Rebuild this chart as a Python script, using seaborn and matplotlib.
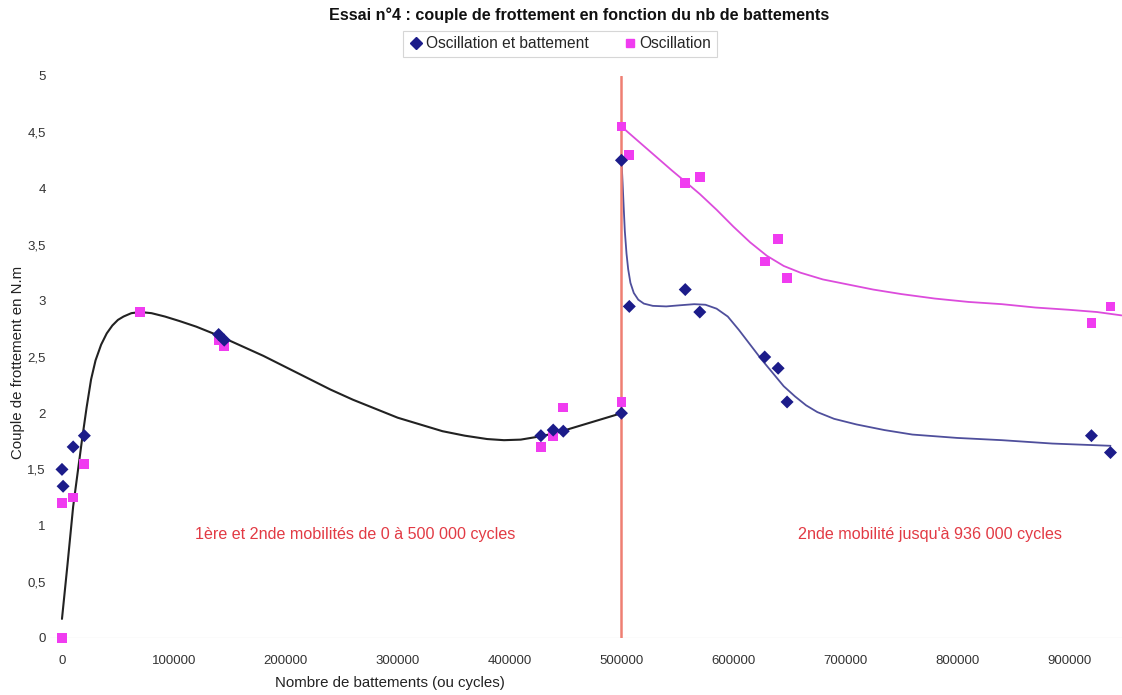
import numpy as np
import pandas as pd
import matplotlib
matplotlib.use("Agg")
import matplotlib.pyplot as plt
from matplotlib.lines import Line2D
from matplotlib.ticker import FuncFormatter
import seaborn as sns

# ---- data ----
ob_x = [0, 1000, 10000, 20000, 140000, 145000, 428000, 439000, 448000, 500000,
        500000, 507000, 557000, 570000, 628000, 640000, 648000, 920000, 937000]
ob_y = [1.5, 1.35, 1.7, 1.8, 2.7, 2.65, 1.8, 1.85, 1.84, 2.0,
        4.25, 2.95, 3.1, 2.9, 2.5, 2.4, 2.1, 1.8, 1.65]

osc_x = [0, 0, 10000, 20000, 70000, 140000, 145000, 428000, 439000, 448000, 500000,
         500000, 507000, 557000, 570000, 628000, 640000, 648000, 920000, 937000]
osc_y = [0.0, 1.2, 1.25, 1.55, 2.9, 2.65, 2.6, 1.7, 1.8, 2.05, 2.1,
         4.55, 4.3, 4.05, 4.1, 3.35, 3.55, 3.2, 2.8, 2.95]

# trend curves
black_x = [0, 5000, 10000, 18000, 22000, 26000, 30000, 35000, 40000, 45000, 50000,
           55000, 62000, 70000, 80000, 92000, 105000, 120000, 140000, 160000, 180000,
           200000, 220000, 240000, 260000, 280000, 300000, 320000, 340000, 360000,
           380000, 395000, 410000, 425000, 440000, 460000, 480000, 500000]
black_y = [0.17, 0.66, 1.17, 1.77, 2.05, 2.30, 2.47, 2.61, 2.71, 2.78, 2.83,
           2.86, 2.89, 2.90, 2.89, 2.86, 2.82, 2.77, 2.69, 2.60, 2.51,
           2.41, 2.31, 2.21, 2.12, 2.04, 1.96, 1.90, 1.84, 1.80,
           1.77, 1.76, 1.765, 1.79, 1.82, 1.88, 1.94, 2.0]

blue_x = [500000, 501000, 502000, 503000, 504500, 506000, 508000, 511000, 515000,
          520000, 528000, 540000, 552000, 565000, 575000, 585000, 595000, 605000,
          615000, 625000, 635000, 645000, 655000, 665000, 675000, 690000, 710000,
          735000, 760000, 800000, 840000, 885000, 937000]
blue_y = [4.25, 4.05, 3.83, 3.62, 3.42, 3.28, 3.16, 3.07, 3.01,
          2.975, 2.955, 2.95, 2.96, 2.97, 2.965, 2.93, 2.86, 2.74,
          2.61, 2.48, 2.36, 2.24, 2.15, 2.07, 2.01, 1.95, 1.90,
          1.85, 1.81, 1.78, 1.76, 1.73, 1.71]

pink_x = [500000, 515000, 530000, 545000, 557000, 570000, 585000, 600000, 615000,
          630000, 645000, 660000, 680000, 700000, 725000, 750000, 780000, 810000,
          840000, 870000, 900000, 925000, 947000]
pink_y = [4.55, 4.42, 4.29, 4.16, 4.06, 3.95, 3.81, 3.66, 3.52,
          3.40, 3.31, 3.25, 3.19, 3.15, 3.10, 3.06, 3.02, 2.99,
          2.97, 2.94, 2.92, 2.90, 2.87]

x_ticks = [0, 100000, 200000, 300000, 400000, 500000, 600000, 700000, 800000, 900000]
y_ticks = [0, 0.5, 1, 1.5, 2, 2.5, 3, 3.5, 4, 4.5, 5]

title = "Essai n°4 : couple de frottement en fonction du nb de battements"
series_names = ["Oscillation et battement", "Oscillation"]
x_label = "Nombre de battements (ou cycles)"
y_label = "Couple de frottement en N.m"
note_left = "1ère et 2nde mobilités de 0 à 500 000 cycles"
note_right = "2nde mobilité jusqu'à 936 000 cycles"
split_x = 500000

# ---- styling ----
sns.set_theme(style="white")
plt.rcParams['font.family'] = ['Liberation Sans', 'DejaVu Sans']

navy = "#1c1c8a"
magenta = "#f03cf0"
red_txt = "#e23a44"

fig = plt.figure(figsize=(11.22, 6.95), dpi=100)
ax = fig.add_axes([50/1122, (695-638)/695, (1122-50)/1122, (638-76)/695])

df_black = pd.DataFrame({"x": black_x, "y": black_y})
df_blue = pd.DataFrame({"x": blue_x, "y": blue_y})
df_pink = pd.DataFrame({"x": pink_x, "y": pink_y})

sns.lineplot(data=df_black, x="x", y="y", sort=False, color="#222222", lw=1.5, ax=ax)
sns.lineplot(data=df_blue, x="x", y="y", sort=False, color="#4f4f9c", lw=1.3, ax=ax)
sns.lineplot(data=df_pink, x="x", y="y", sort=False, color="#dc4cdc", lw=1.3, ax=ax)

ax.axvline(split_x, color="#ef7f72", lw=1.8, zorder=2)
ax.axhline(0, color="#eeeeee", lw=1, zorder=0)

df_ob = pd.DataFrame({"x": ob_x, "y": ob_y})
df_osc = pd.DataFrame({"x": osc_x, "y": osc_y})
sns.scatterplot(data=df_osc, x="x", y="y", marker="s", s=50, color=magenta,
                edgecolor="none", ax=ax, zorder=4, clip_on=False)
sns.scatterplot(data=df_ob, x="x", y="y", marker="D", s=44, color=navy,
                edgecolor="none", ax=ax, zorder=5, clip_on=False)

ax.set_xlim(-10700, 947300)
ax.set_ylim(0, 5)
ax.set_xticks(x_ticks)
ax.set_yticks(y_ticks)
ax.xaxis.set_major_formatter(FuncFormatter(lambda v, p: f"{int(v)}"))
ax.yaxis.set_major_formatter(FuncFormatter(lambda v, p: (f"{v:g}").replace(".", ",")))
ax.tick_params(axis="both", length=0, labelsize=9.5, colors="#333333")
ax.tick_params(axis="x", pad=12)
ax.tick_params(axis="y", pad=3)
for sp in ax.spines.values():
    sp.set_visible(False)

ax.set_xlabel("")
ax.set_ylabel("")
fig.text(390/1122, 1 - 683/695, x_label, ha="center", va="center", fontsize=10.8, color="#222222")
fig.text(18/1122, 1 - 362/695, y_label, ha="center", va="center", rotation=90,
         fontsize=10.8, color="#222222")

ax.text(262000, 0.92, note_left, ha="center", va="center", fontsize=11.6, color=red_txt)
ax.text(776000, 0.92, note_right, ha="center", va="center", fontsize=11.6, color=red_txt)

fig.text(579/1122, 1 - 15/695, title, ha="center", va="center", fontsize=11.6,
         fontweight="bold", color="#111111")

handles = [Line2D([], [], marker="D", ls="none", color=navy, markersize=6),
           Line2D([], [], marker="s", ls="none", color=magenta, markersize=6)]
leg = fig.legend(handles, series_names, loc="center", bbox_to_anchor=(560/1122, 1 - 44/695),
                 ncol=2, fontsize=11.2, frameon=True, fancybox=False, handletextpad=0.1,
                 columnspacing=2.2, borderpad=0.35, handlelength=1.0)
leg.get_frame().set_edgecolor("#cccccc")
leg.get_frame().set_linewidth(0.8)

fig.savefig("out.png", dpi=100)
